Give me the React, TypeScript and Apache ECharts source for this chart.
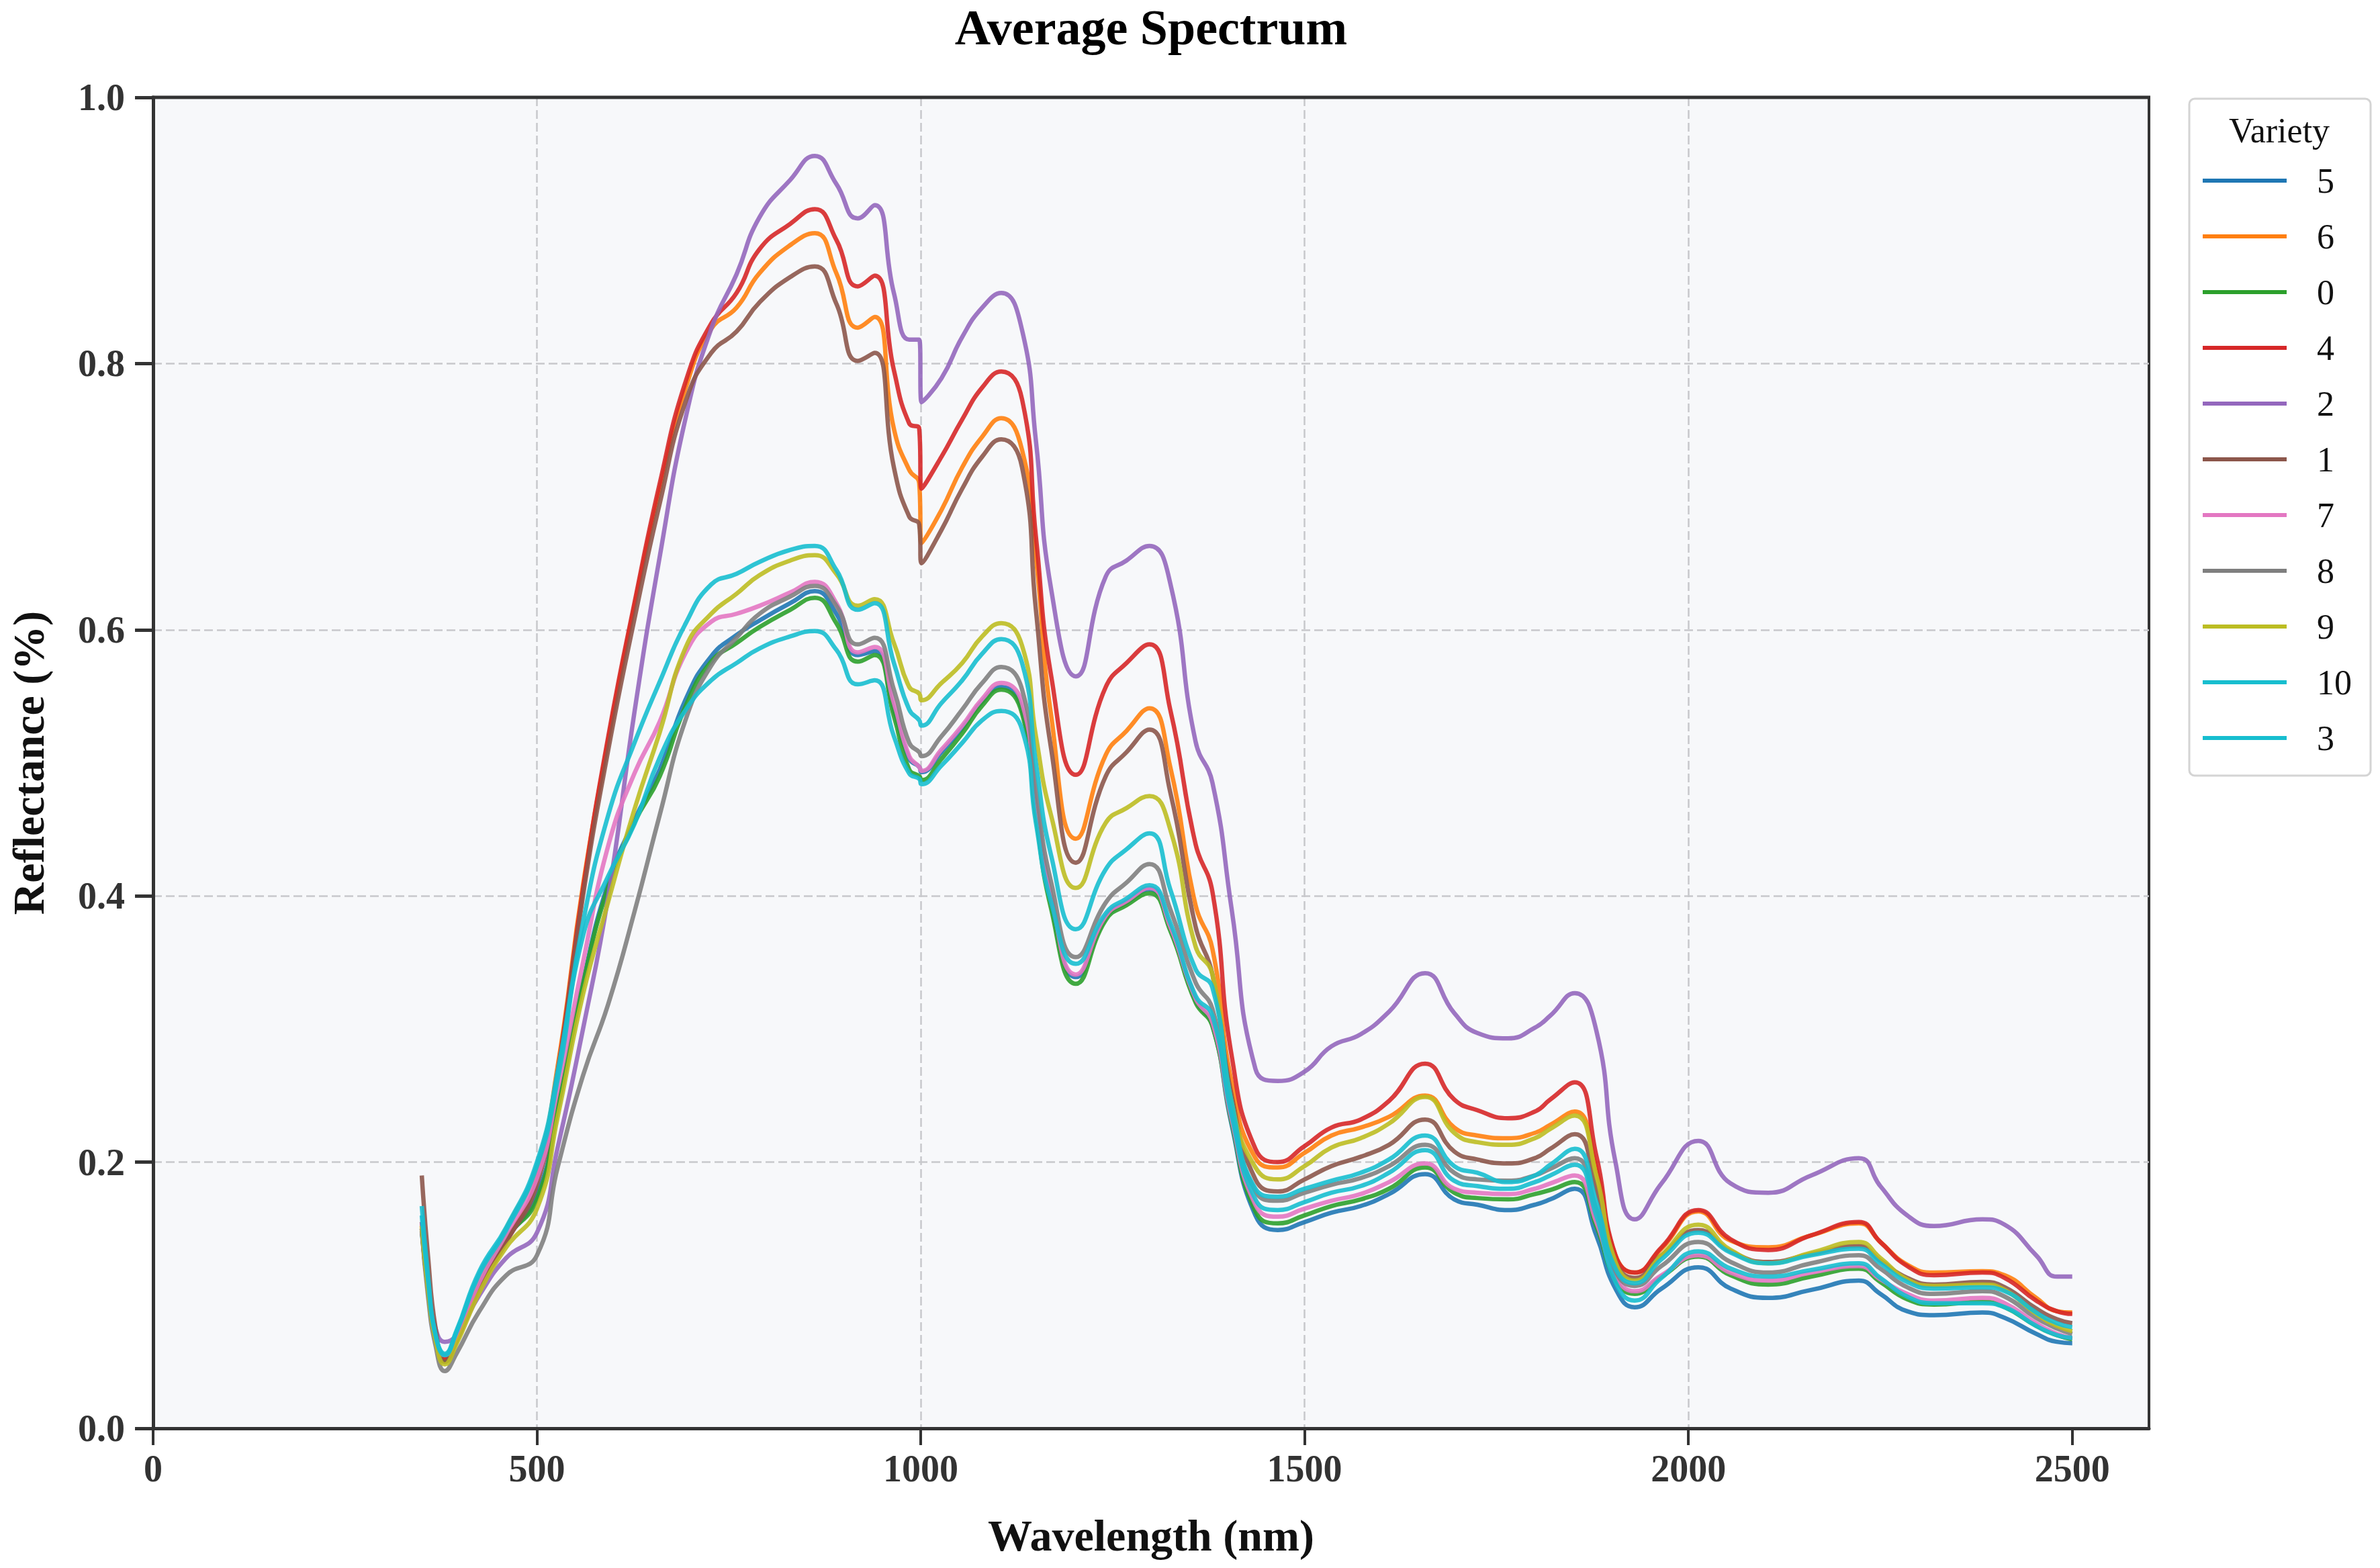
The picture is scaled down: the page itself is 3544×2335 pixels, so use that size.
import React, { useEffect, useRef } from "react";
import * as echarts from "echarts";

const WAVELENGTHS = [
  350, 358, 368, 380, 395, 425, 460, 500, 527, 560,
  593, 627, 660, 694, 727, 760, 790, 830, 862, 890,
  918, 940, 965, 985, 998, 1001, 1027, 1054, 1080, 1105,
  1132, 1150, 1170, 1202, 1241, 1268, 1298, 1325, 1358, 1380,
  1405, 1436, 1465, 1500, 1535, 1573, 1610, 1657, 1695, 1725,
  1765, 1800, 1820, 1852, 1880, 1905, 1930, 1965, 2013, 2055,
  2104, 2160, 2222, 2250, 2285, 2320, 2383, 2412, 2453, 2480,
  2500,
];

const V5 = [
  0.150, 0.105, 0.068, 0.050, 0.067, 0.107, 0.142, 0.175, 0.240, 0.335,
  0.410, 0.457, 0.495, 0.548, 0.580, 0.596, 0.607, 0.620, 0.629, 0.612,
  0.581, 0.584, 0.540, 0.503, 0.497, 0.493, 0.508, 0.526, 0.546, 0.557,
  0.540, 0.465, 0.395, 0.339, 0.384, 0.395, 0.405, 0.376, 0.322, 0.303,
  0.228, 0.160, 0.149, 0.155, 0.162, 0.167, 0.176, 0.191, 0.172, 0.168,
  0.164, 0.168, 0.172, 0.180, 0.145, 0.105, 0.091, 0.105, 0.121, 0.105,
  0.098, 0.104, 0.111, 0.101, 0.088, 0.085, 0.087, 0.083, 0.071, 0.065,
  0.064,
];
const V6 = [
  0.155, 0.105, 0.068, 0.052, 0.068, 0.112, 0.150, 0.197, 0.272, 0.408,
  0.517, 0.618, 0.705, 0.782, 0.826, 0.842, 0.868, 0.889, 0.898, 0.868,
  0.827, 0.835, 0.751, 0.720, 0.710, 0.665, 0.690, 0.722, 0.745, 0.759,
  0.735, 0.655, 0.535, 0.443, 0.506, 0.524, 0.541, 0.497, 0.393, 0.360,
  0.260, 0.203, 0.196, 0.207, 0.220, 0.226, 0.234, 0.250, 0.226, 0.220,
  0.218, 0.222, 0.228, 0.238, 0.195, 0.130, 0.117, 0.135, 0.163, 0.141,
  0.136, 0.145, 0.154, 0.140, 0.123, 0.117, 0.118, 0.115, 0.098, 0.088,
  0.087,
];
const V0 = [
  0.148, 0.105, 0.068, 0.050, 0.066, 0.107, 0.143, 0.172, 0.242, 0.334,
  0.407, 0.455, 0.490, 0.543, 0.576, 0.590, 0.602, 0.615, 0.624, 0.605,
  0.576, 0.581, 0.535, 0.495, 0.490, 0.487, 0.503, 0.522, 0.543, 0.555,
  0.537, 0.460, 0.390, 0.334, 0.382, 0.393, 0.402, 0.374, 0.320, 0.302,
  0.230, 0.163, 0.154, 0.160, 0.167, 0.172, 0.180, 0.196, 0.177, 0.173,
  0.172, 0.176, 0.179, 0.185, 0.152, 0.112, 0.101, 0.114, 0.129, 0.115,
  0.108, 0.114, 0.120, 0.110, 0.097, 0.093, 0.095, 0.091, 0.077, 0.070,
  0.067,
];
const V4 = [
  0.150, 0.105, 0.068, 0.053, 0.066, 0.105, 0.140, 0.187, 0.268, 0.405,
  0.520, 0.620, 0.710, 0.787, 0.830, 0.853, 0.886, 0.905, 0.916, 0.893,
  0.858, 0.866, 0.795, 0.755, 0.751, 0.706, 0.730, 0.758, 0.782, 0.794,
  0.773, 0.670, 0.565, 0.491, 0.557, 0.575, 0.589, 0.540, 0.439, 0.403,
  0.280, 0.210, 0.200, 0.212, 0.226, 0.232, 0.246, 0.274, 0.247, 0.239,
  0.233, 0.238, 0.247, 0.260, 0.205, 0.130, 0.117, 0.136, 0.164, 0.142,
  0.134, 0.145, 0.155, 0.140, 0.122, 0.115, 0.117, 0.113, 0.096, 0.088,
  0.086,
];
const V2 = [
  0.155, 0.110, 0.075, 0.065, 0.070, 0.100, 0.128, 0.147, 0.211, 0.300,
  0.400, 0.538, 0.655, 0.760, 0.826, 0.867, 0.910, 0.938, 0.956, 0.935,
  0.909, 0.919, 0.853, 0.818, 0.818, 0.771, 0.789, 0.820, 0.842, 0.853,
  0.825, 0.742, 0.630, 0.565, 0.640, 0.652, 0.663, 0.635, 0.516, 0.485,
  0.390, 0.270, 0.261, 0.268, 0.287, 0.296, 0.313, 0.342, 0.312, 0.297,
  0.293, 0.301, 0.310, 0.327, 0.299, 0.200, 0.157, 0.184, 0.216, 0.184,
  0.177, 0.190, 0.203, 0.182, 0.160, 0.152, 0.157, 0.153, 0.130, 0.114,
  0.114,
];
const V1 = [
  0.190, 0.130, 0.075, 0.050, 0.065, 0.106, 0.140, 0.183, 0.265, 0.400,
  0.510, 0.608, 0.695, 0.772, 0.808, 0.824, 0.846, 0.865, 0.873, 0.845,
  0.802, 0.808, 0.722, 0.685, 0.679, 0.650, 0.675, 0.706, 0.730, 0.743,
  0.722, 0.615, 0.510, 0.425, 0.490, 0.508, 0.525, 0.478, 0.377, 0.341,
  0.250, 0.187, 0.178, 0.187, 0.197, 0.204, 0.213, 0.232, 0.208, 0.202,
  0.199, 0.203, 0.210, 0.221, 0.180, 0.125, 0.113, 0.130, 0.149, 0.133,
  0.125, 0.131, 0.137, 0.126, 0.113, 0.108, 0.110, 0.106, 0.090, 0.082,
  0.079,
];
const V7 = [
  0.152, 0.105, 0.068, 0.055, 0.068, 0.110, 0.146, 0.188, 0.255, 0.350,
  0.438, 0.492, 0.531, 0.583, 0.606, 0.612, 0.618, 0.628, 0.636, 0.620,
  0.583, 0.587, 0.545, 0.505, 0.497, 0.494, 0.510, 0.528, 0.548, 0.560,
  0.545, 0.470, 0.400, 0.341, 0.385, 0.396, 0.406, 0.377, 0.323, 0.305,
  0.232, 0.168, 0.159, 0.165, 0.171, 0.176, 0.185, 0.199, 0.180, 0.177,
  0.176, 0.180, 0.184, 0.190, 0.155, 0.115, 0.103, 0.115, 0.130, 0.117,
  0.111, 0.117, 0.122, 0.112, 0.101, 0.096, 0.098, 0.094, 0.079, 0.071,
  0.068,
];
const V8 = [
  0.150, 0.100, 0.062, 0.043, 0.056, 0.088, 0.115, 0.130, 0.196, 0.265,
  0.319, 0.388, 0.461, 0.533, 0.573, 0.594, 0.612, 0.625, 0.633, 0.618,
  0.589, 0.594, 0.555, 0.515, 0.508, 0.505, 0.520, 0.540, 0.560, 0.572,
  0.555, 0.480, 0.410, 0.354, 0.395, 0.410, 0.424, 0.390, 0.335, 0.315,
  0.240, 0.178, 0.171, 0.177, 0.183, 0.188, 0.197, 0.213, 0.192, 0.187,
  0.186, 0.190, 0.195, 0.203, 0.165, 0.118, 0.107, 0.122, 0.140, 0.125,
  0.117, 0.124, 0.130, 0.120, 0.106, 0.101, 0.103, 0.099, 0.083, 0.075,
  0.071,
];
const V9 = [
  0.152, 0.105, 0.066, 0.048, 0.063, 0.102, 0.136, 0.165, 0.234, 0.326,
  0.396, 0.465, 0.523, 0.587, 0.612, 0.627, 0.641, 0.652, 0.656, 0.642,
  0.618, 0.623, 0.590, 0.557, 0.552, 0.547, 0.560, 0.575, 0.595, 0.605,
  0.588, 0.520, 0.460, 0.406, 0.455, 0.466, 0.475, 0.450, 0.362, 0.341,
  0.245, 0.196, 0.187, 0.197, 0.211, 0.218, 0.229, 0.249, 0.222, 0.215,
  0.213, 0.218, 0.225, 0.235, 0.190, 0.125, 0.111, 0.130, 0.153, 0.134,
  0.124, 0.132, 0.140, 0.128, 0.112, 0.107, 0.108, 0.104, 0.086, 0.077,
  0.073,
];
const V10 = [
  0.167, 0.115, 0.070, 0.056, 0.073, 0.118, 0.151, 0.200, 0.268, 0.380,
  0.461, 0.515, 0.561, 0.605, 0.634, 0.642, 0.651, 0.660, 0.663, 0.645,
  0.615, 0.620, 0.575, 0.540, 0.532, 0.528, 0.545, 0.562, 0.582, 0.593,
  0.575, 0.500, 0.430, 0.375, 0.420, 0.435, 0.447, 0.405, 0.345, 0.331,
  0.245, 0.180, 0.174, 0.180, 0.186, 0.192, 0.202, 0.220, 0.197, 0.192,
  0.185, 0.190, 0.198, 0.210, 0.170, 0.120, 0.109, 0.127, 0.147, 0.132,
  0.124, 0.130, 0.135, 0.124, 0.110, 0.105, 0.106, 0.103, 0.087, 0.079,
  0.076,
];
const V3 = [
  0.160, 0.112, 0.070, 0.055, 0.072, 0.116, 0.149, 0.197, 0.262, 0.370,
  0.415, 0.454, 0.504, 0.540, 0.562, 0.575, 0.586, 0.595, 0.599, 0.585,
  0.559, 0.562, 0.520, 0.492, 0.488, 0.484, 0.498, 0.515, 0.532, 0.539,
  0.525, 0.455, 0.395, 0.349, 0.387, 0.398, 0.408, 0.380, 0.325, 0.310,
  0.235, 0.172, 0.164, 0.170, 0.177, 0.182, 0.192, 0.209, 0.186, 0.182,
  0.180, 0.185, 0.190, 0.198, 0.160, 0.110, 0.096, 0.113, 0.133, 0.120,
  0.114, 0.119, 0.124, 0.113, 0.099, 0.094, 0.094, 0.091, 0.077, 0.070,
  0.068,
];

const VARIETIES = ["5", "6", "0", "4", "2", "1", "7", "8", "9", "10", "3"];
const VALUES = [V5, V6, V0, V4, V2, V1, V7, V8, V9, V10, V3];
const COLORS = [
  "#1f77b4", "#ff7f0e", "#2ca02c", "#d62728", "#9467bd", "#8c564b",
  "#e377c2", "#7f7f7f", "#bcbd22", "#17becf", "#17becf",
];
const X_TICKS = [0, 500, 1000, 1500, 2000, 2500];

const FONT = "'Liberation Serif', 'Times New Roman', serif";

export default function App() {
  const ref = useRef<HTMLDivElement>(null);

  useEffect(() => {
    document.body.style.margin = "0";
    document.body.style.overflow = "hidden";
    const chart = echarts.init(ref.current!, null, { renderer: "svg" });

    const series = VARIETIES.map((name, i) => ({
      type: "line",
      name,
      data: WAVELENGTHS.map((w, j) => [w, VALUES[i][j]]),
      showSymbol: false,
      symbol: "none",
      smooth: 0.5,
      lineStyle: { width: 6.5, color: COLORS[i], opacity: 0.9 },
      itemStyle: { color: COLORS[i] },
      emphasis: { disabled: true },
    }));

    const gridLine = { color: "#c8c8cc", width: 2.5, type: [13, 6] };

    chart.setOption({
      animation: false,
      backgroundColor: "#ffffff",
      textStyle: { fontFamily: FONT },
      grid: {
        left: 228,
        right: 344,
        top: 145,
        bottom: 208,
        show: true,
        backgroundColor: "#f7f8fa",
        borderColor: "#333333",
        borderWidth: 4,
      },
      xAxis: {
        type: "value",
        min: 0,
        max: 2600,
        interval: 500,
        name: "Wavelength (nm)",
        nameLocation: "middle",
        nameGap: 126,
        nameTextStyle: { fontFamily: FONT, fontSize: 66, fontWeight: "bold", color: "#111" },
        axisLine: { show: true, onZero: false, lineStyle: { color: "#333", width: 5 } },
        axisTick: { show: true, length: 25, customValues: X_TICKS, lineStyle: { color: "#333", width: 4 } },
        axisLabel: {
          customValues: X_TICKS,
          margin: 32,
          fontFamily: FONT,
          fontSize: 56,
          fontWeight: "bold",
          color: "#333",
          formatter: (v: number) => String(v),
        },
        splitLine: { show: true, showMinLine: false, showMaxLine: false, lineStyle: gridLine },
      },
      yAxis: {
        type: "value",
        min: 0,
        max: 1,
        interval: 0.2,
        name: "Reflectance (%)",
        nameLocation: "middle",
        nameGap: 153,
        nameTextStyle: { fontFamily: FONT, fontSize: 66, fontWeight: "bold", color: "#111" },
        axisLine: { show: true, lineStyle: { color: "#333", width: 5 } },
        axisTick: { show: true, length: 27, lineStyle: { color: "#333", width: 5 } },
        axisLabel: {
          margin: 42,
          fontFamily: FONT,
          fontSize: 56,
          fontWeight: "bold",
          color: "#333",
          formatter: (v: number) => v.toFixed(1),
        },
        splitLine: { show: true, showMinLine: false, showMaxLine: false, lineStyle: gridLine },
      },
      legend: {
        orient: "vertical",
        left: 3260,
        top: 147,
        data: VARIETIES,
        icon: "rect",
        itemWidth: 125,
        itemHeight: 6,
        itemGap: 23,
        padding: [92, 28, 26, 20],
        backgroundColor: "#ffffff",
        borderColor: "#d4d4d4",
        borderWidth: 3,
        borderRadius: 8,
        textStyle: {
          fontFamily: FONT,
          fontSize: 52,
          lineHeight: 60,
          color: "#111",
          padding: [0, 0, 0, 40],
        },
      },
      graphic: [
        {
          type: "text",
          x: 1714,
          y: 41,
          style: {
            text: "Average Spectrum",
            fontFamily: FONT,
            fontSize: 74,
            fontWeight: "bold",
            fill: "#000",
            align: "center",
            verticalAlign: "middle",
          },
          z: 10,
        },
        {
          type: "text",
          x: 3394,
          y: 194,
          style: {
            text: "Variety",
            fontFamily: FONT,
            fontSize: 52,
            fill: "#111",
            align: "center",
            verticalAlign: "middle",
          },
          z: 10,
        },
        {
          type: "line",
          shape: { x1: 226, y1: 145, x2: 3202, y2: 145 },
          style: { stroke: "#333333", lineWidth: 5 },
          z: 10,
        },
      ],
      series,
    });

    return () => chart.dispose();
  }, []);

  return <div ref={ref} style={{ width: 3544, height: 2335 }} />;
}
